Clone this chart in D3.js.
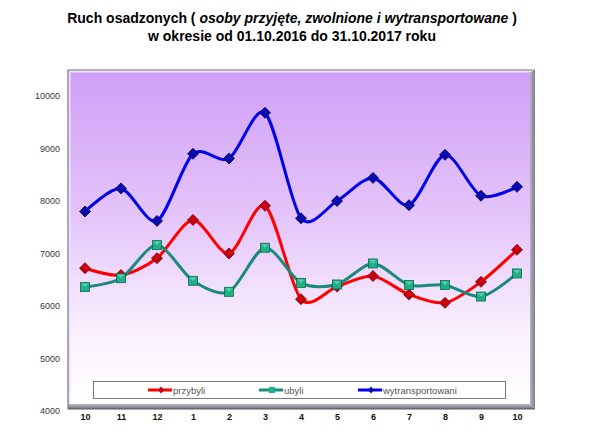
<!DOCTYPE html>
<html>
<head>
<meta charset="utf-8">
<script src="https://cdn.jsdelivr.net/npm/d3@7/dist/d3.min.js"></script>
<style>
  html, body { margin: 0; padding: 0; background: #fff; }
  svg { display: block; }
</style>
</head>
<body>
<svg id="chart" width="607" height="447"></svg>
<script>
// ---- data ----
const months = ["10", "11", "12", "1", "2", "3", "4", "5", "6", "7", "8", "9", "10"];
const przybyli = [6720, 6590, 6910, 7640, 7000, 7910, 6130, 6370, 6570, 6220, 6060, 6460, 7070];
const ubyli = [6360, 6530, 7160, 6480, 6270, 7110, 6440, 6410, 6810, 6400, 6400, 6180, 6620];
const wytransportowani = [7800, 8240, 7620, 8900, 8810, 9680, 7670, 8000, 8440, 7920, 8880, 8100, 8270];
const yTicks = [4000, 5000, 6000, 7000, 8000, 9000, 10000];
const seriesNames = ["przybyli", "ubyli", "wytransportowani"];
const titleLine1 = ["Ruch osadzonych ( ", "osoby przyjęte, zwolnione i wytransportowane", " )"];
const titleLine2 = "w okresie od 01.10.2016 do 31.10.2017 roku";

// ---- layout ----
const svg = d3.select("#chart");
const face = {x0: 68, y0: 70, x1: 530, y1: 404};
const depth = 5;

const x = d3.scalePoint().domain(d3.range(months.length)).range([85, 517]);
const y = d3.scaleLinear().domain([4000, 10000]).range([411, 96]);

const defs = svg.append("defs");
const bg = defs.append("linearGradient").attr("id", "bg").attr("x1", 0).attr("y1", 0).attr("x2", 0).attr("y2", 1);
bg.append("stop").attr("offset", "0%").attr("stop-color", "#d09ef7");
bg.append("stop").attr("offset", "45%").attr("stop-color", "#e5c6fa");
bg.append("stop").attr("offset", "80%").attr("stop-color", "#fbf2fe");
bg.append("stop").attr("offset", "100%").attr("stop-color", "#ffffff");

const side = defs.append("linearGradient").attr("id", "side").attr("x1", 0).attr("y1", 0).attr("x2", 1).attr("y2", 0);
side.append("stop").attr("offset", "0%").attr("stop-color", "#b8b4c4");
side.append("stop").attr("offset", "100%").attr("stop-color", "#7d7a8a");

const bot = defs.append("linearGradient").attr("id", "bot").attr("x1", 0).attr("y1", 0).attr("x2", 0).attr("y2", 1);
bot.append("stop").attr("offset", "0%").attr("stop-color", "#c0bcc8");
bot.append("stop").attr("offset", "100%").attr("stop-color", "#6f6c78");

// face
svg.append("rect").attr("x", face.x0).attr("y", face.y0)
  .attr("width", face.x1 - face.x0).attr("height", face.y1 - face.y0)
  .attr("fill", "url(#bg)");
// inner highlight bevel
svg.append("path")
  .attr("d", `M${face.x0 + 1},${face.y1} L${face.x0 + 1},${face.y0 + 1} L${face.x1},${face.y0 + 1}`)
  .attr("fill", "none").attr("stroke", "#f2e2fc").attr("stroke-width", 3);
// right side
svg.append("path")
  .attr("d", `M${face.x1},${face.y0 + 2} L${face.x1 + depth},${face.y0} L${face.x1 + depth},${face.y1 + depth} L${face.x1},${face.y1} Z`)
  .attr("fill", "url(#side)");
// bottom
svg.append("path")
  .attr("d", `M${face.x0},${face.y1} L${face.x1},${face.y1} L${face.x1 + depth},${face.y1 + depth} L${face.x0},${face.y1 + depth} Z`)
  .attr("fill", "url(#bot)");
// outer border
svg.append("path")
  .attr("d", `M${face.x0},${face.y1 + depth} L${face.x0},${face.y0} L${face.x1 + depth},${face.y0}`)
  .attr("fill", "none").attr("stroke", "#7c7888").attr("stroke-width", 1.2);
svg.append("line").attr("x1", face.x0).attr("x2", face.x1 + depth)
  .attr("y1", face.y1 + depth).attr("y2", face.y1 + depth)
  .attr("stroke", "#5d5a66").attr("stroke-width", 1);

// ---- title ----
const tFont = "'Liberation Sans', Arial, sans-serif";
const t1 = svg.append("text").attr("x", 292).attr("y", 23)
  .attr("text-anchor", "middle")
  .style("font-family", tFont)
  .style("font-size", "14px").style("font-weight", "bold").attr("fill", "#000");
t1.append("tspan").text(titleLine1[0]);
t1.append("tspan").style("font-style", "italic").text(titleLine1[1]);
t1.append("tspan").text(titleLine1[2]);
svg.append("text").attr("x", 292).attr("y", 41)
  .attr("text-anchor", "middle")
  .style("font-family", tFont)
  .style("font-size", "14px").style("font-weight", "bold").attr("fill", "#000")
  .text(titleLine2);

// ---- axes ----
const yAxis = svg.append("g").attr("transform", "translate(60,0)")
  .call(d3.axisLeft(y).tickValues(yTicks).tickSize(0).tickPadding(0).tickFormat(d3.format("d")));
yAxis.select(".domain").remove();
yAxis.selectAll("text")
  .style("font-family", tFont)
  .style("font-size", "9px").attr("fill", "#3a3a3a");

const xAxis = svg.append("g").attr("transform", "translate(0,414)")
  .call(d3.axisBottom(x).tickSize(0).tickPadding(0).tickFormat(i => months[i]));
xAxis.select(".domain").remove();
xAxis.selectAll("text")
  .style("font-family", tFont)
  .style("font-size", "9px").style("font-weight", "bold").attr("fill", "#111");

// ---- series ----
const series = [
  {name: seriesNames[0], values: przybyli, color: "#ff0000", mark: "#c00010", dark: "#7a0008", shape: "diamond"},
  {name: seriesNames[1], values: ubyli, color: "#1a8a80", mark: "#20b088", dark: "#0b6a50", shape: "square"},
  {name: seriesNames[2], values: wytransportowani, color: "#0000ee", mark: "#0a0aa8", dark: "#000060", shape: "diamond"}
];

const line = d3.line().x((d, i) => x(i)).y(d => y(d)).curve(d3.curveCardinal.tension(0.15));

function marker(g, shape, cx, cy, s) {
  if (shape === "diamond") {
    const r = 5.5;
    g.append("path").attr("d", `M${cx},${cy - r} L${cx + r},${cy} L${cx},${cy + r} L${cx - r},${cy} Z`)
      .attr("fill", s.mark).attr("stroke", s.dark).attr("stroke-width", 0.8);
    g.append("path").attr("d", `M${cx},${cy - r + 1.5} L${cx + 2},${cy} L${cx},${cy + 1} L${cx - 2},${cy} Z`)
      .attr("fill", d3.color(s.mark).brighter(0.6)).attr("opacity", 0.6);
  } else {
    const r = 4.5;
    g.append("rect").attr("x", cx - r).attr("y", cy - r).attr("width", 2 * r).attr("height", 2 * r)
      .attr("fill", s.mark).attr("stroke", s.dark).attr("stroke-width", 0.8);
    g.append("path").attr("d", `M${cx - r + 1},${cy - r + 1} L${cx + r - 1},${cy - r + 1} L${cx},${cy} Z`)
      .attr("fill", "#6fe0b8").attr("opacity", 0.7);
  }
}

series.forEach(s => {
  svg.append("path").datum(s.values).attr("d", line)
    .attr("fill", "none").attr("stroke", s.color).attr("stroke-width", 3)
    .attr("stroke-linejoin", "round").attr("stroke-linecap", "round");
});
series.forEach(s => {
  const g = svg.append("g");
  s.values.forEach((v, i) => marker(g, s.shape, x(i), y(v), s));
});

// ---- legend ----
const legend = svg.append("g");
legend.append("rect").attr("x", 93.5).attr("y", 381.5).attr("width", 412).attr("height", 17)
  .attr("fill", "#fff").attr("stroke", "#7a7a7a").attr("stroke-width", 1);
const legX = [148, 259, 358];
series.forEach((s, i) => {
  const lg = legend.append("g");
  lg.append("line").attr("x1", legX[i]).attr("x2", legX[i] + 24).attr("y1", 390).attr("y2", 390)
    .attr("stroke", s.color).attr("stroke-width", 3);
  const cx = legX[i] + 13;
  if (s.shape === "diamond") {
    lg.append("path").attr("d", `M${cx},${386.5} L${cx + 3},${390} L${cx},${393.5} L${cx - 3},${390} Z`).attr("fill", s.mark);
  } else {
    lg.append("rect").attr("x", cx - 3).attr("y", 387).attr("width", 6).attr("height", 6).attr("fill", s.mark);
  }
  lg.append("text").attr("x", legX[i] + 25).attr("y", 393.5)
    .style("font-family", tFont)
    .style("font-size", "9.5px").attr("fill", "#555").text(s.name);
});
</script>
</body>
</html>
